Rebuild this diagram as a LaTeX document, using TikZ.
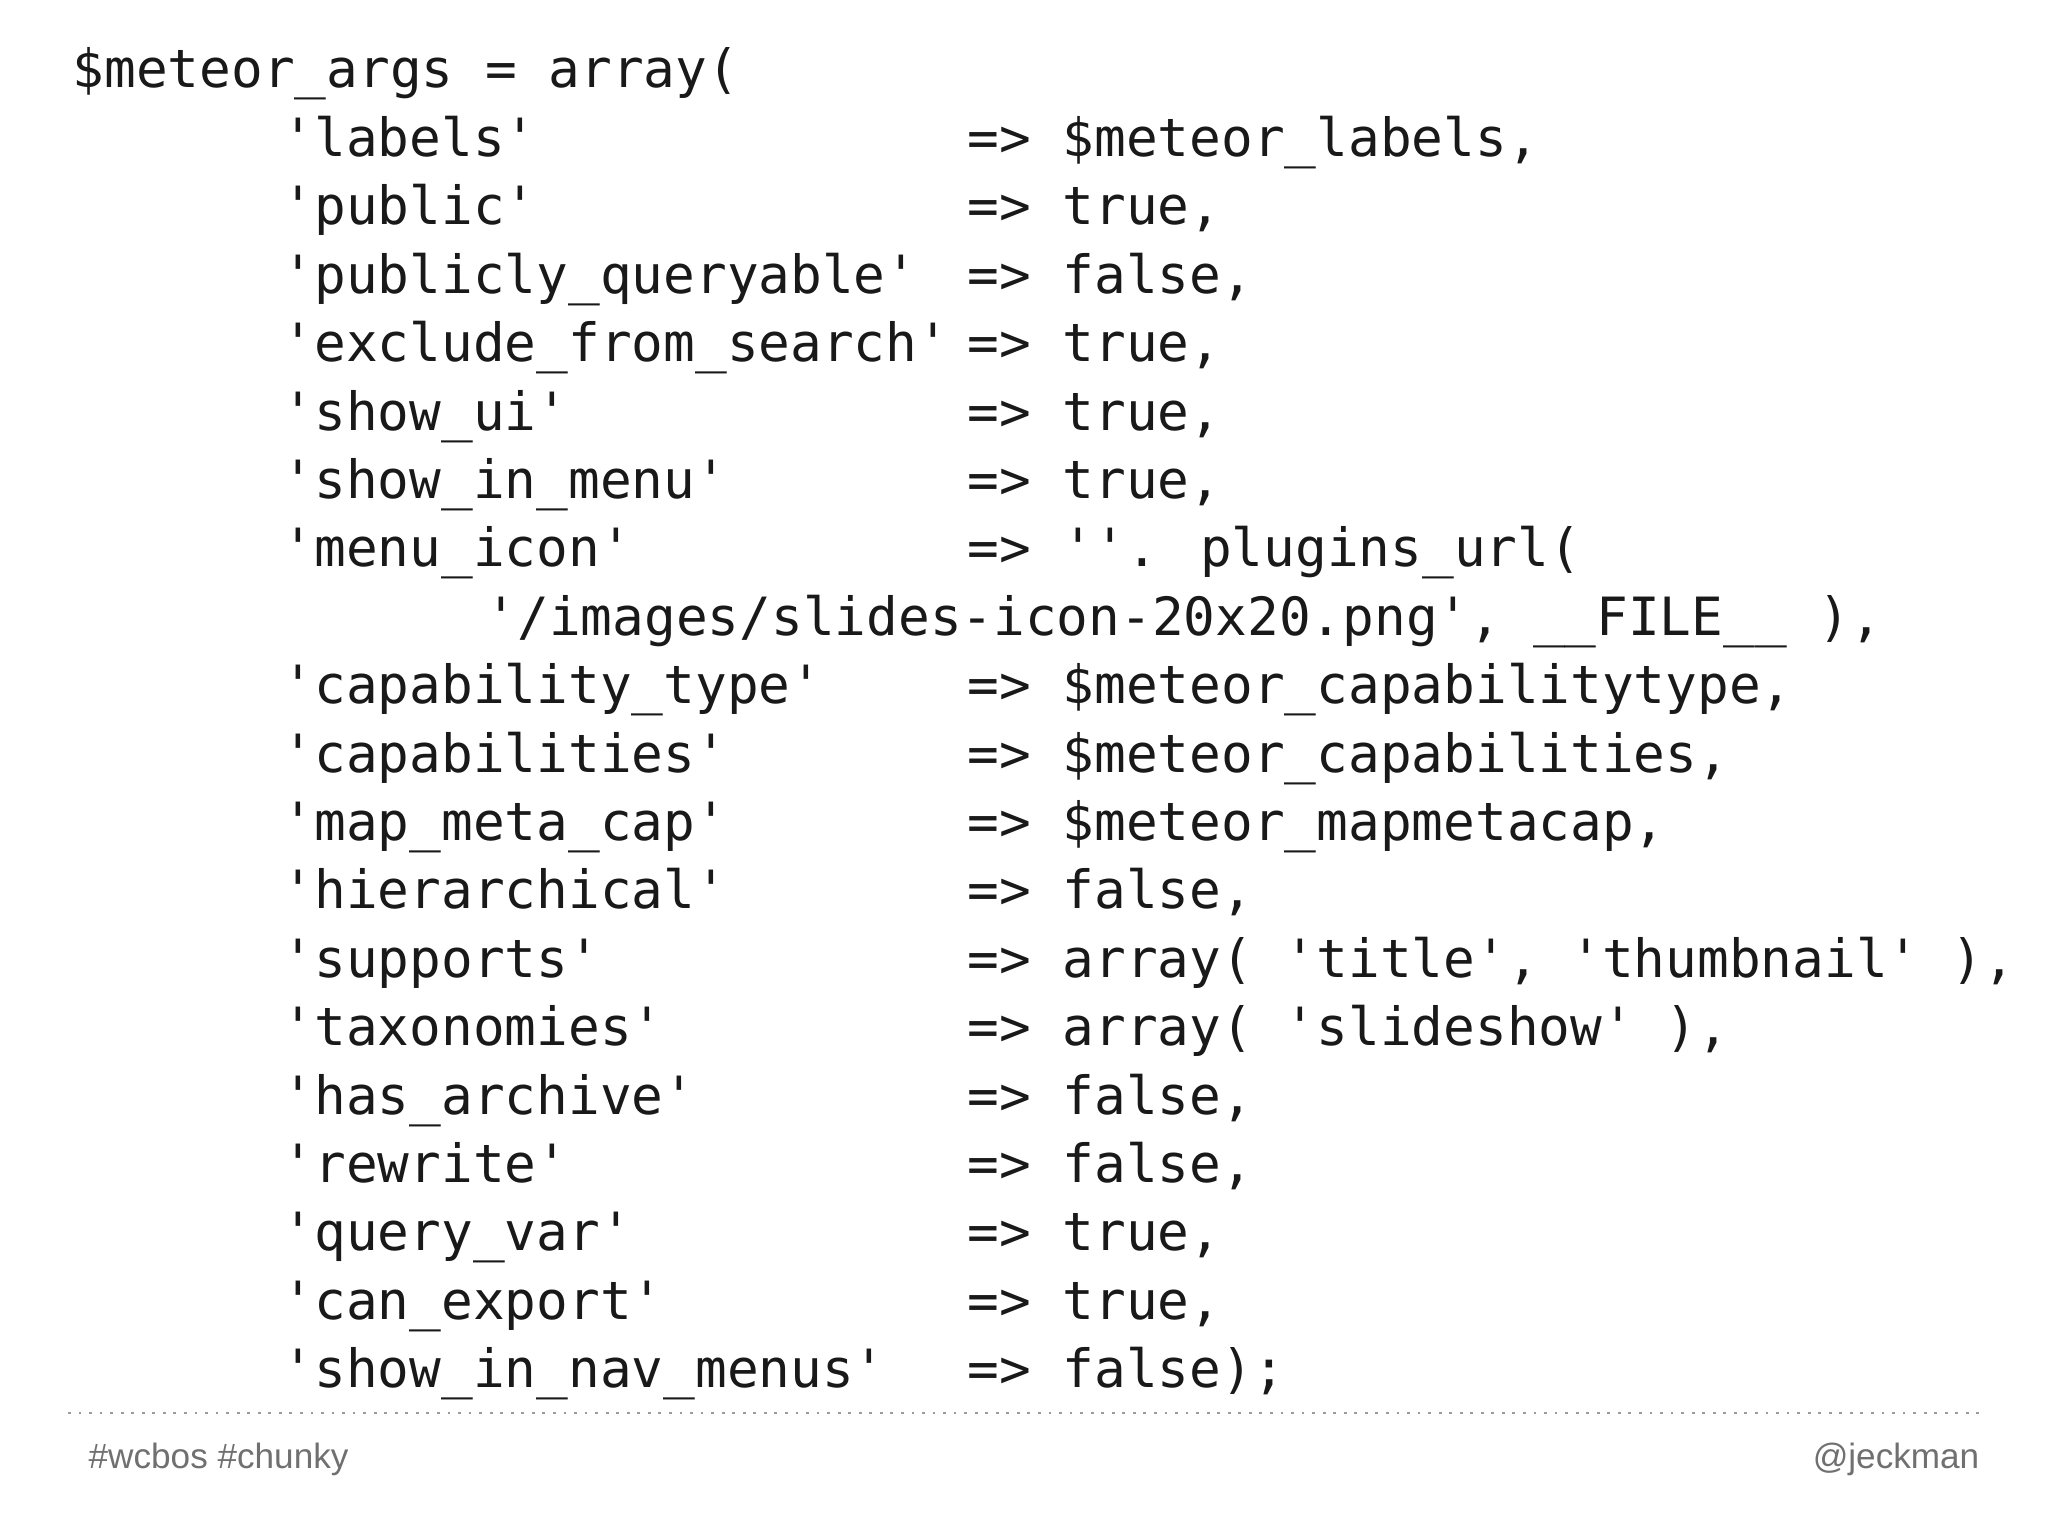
\documentclass[tikz,border=0pt]{standalone}
\usepackage{fontspec}
\newfontfamily\code{DejaVu Sans Mono}
\setmainfont{Liberation Sans}
\definecolor{foot}{HTML}{707070}
\begin{document}
\begin{tikzpicture}[x=1cm,y=1cm,
  codetext/.style={anchor=base west,inner sep=0pt,font=\code\fontsize{15}{18}\selectfont,text=black!90},
  foottext/.style={inner sep=0pt,font=\fontsize{10}{12}\selectfont,text=foot}]
\useasboundingbox (0,0) rectangle (20.48,-15.36);
\newcommand{\kvrow}[3]{%
  \node[codetext] (k#1) at (2.82,{-0.88-0.684*#1}) {#2};
  \node[codetext] (a#1) at (9.67,{-0.88-0.684*#1}) {=>};
  \node[codetext] (v#1) at (10.62,{-0.88-0.684*#1}) {#3};}
\node[codetext] (head) at (0.72,-0.88) {\$meteor\_args = array(};
\kvrow{1}{'labels'}{\$meteor\_labels,}
\kvrow{2}{'public'}{true,}
\kvrow{3}{'publicly\_queryable'}{false,}
\kvrow{4}{'exclude\_from\_search'}{true,}
\kvrow{5}{'show\_ui'}{true,}
\kvrow{6}{'show\_in\_menu'}{true,}
\kvrow{7}{'menu\_icon'}{''. plugins\_url(}
\node[codetext] (cont) at (4.85,{-0.88-0.684*8}) {'/images/slides-icon-20x20.png', \_\_FILE\_\_ ),};
\kvrow{9}{'capability\_type'}{\$meteor\_capabilitytype,}
\kvrow{10}{'capabilities'}{\$meteor\_capabilities,}
\kvrow{11}{'map\_meta\_cap'}{\$meteor\_mapmetacap,}
\kvrow{12}{'hierarchical'}{false,}
\kvrow{13}{'supports'}{array( 'title', 'thumbnail' ),}
\kvrow{14}{'taxonomies'}{array( 'slideshow' ),}
\kvrow{15}{'has\_archive'}{false,}
\kvrow{16}{'rewrite'}{false,}
\kvrow{17}{'query\_var'}{true,}
\kvrow{18}{'can\_export'}{true,}
\kvrow{19}{'show\_in\_nav\_menus'}{false);}
\coordinate (dl) at (0.68,-14.13);
\coordinate (dr) at (19.80,-14.13);
\draw[foot!70,line width=0.8pt,dash pattern=on 0.8pt off 2.2pt] (dl) -- (dr);
\node[foottext,anchor=west] (tagl) at (0.88,-14.59) {\#wcbos \#chunky};
\node[foottext,anchor=east] (tagr) at (19.80,-14.59) {@jeckman};
\end{tikzpicture}
\end{document}
